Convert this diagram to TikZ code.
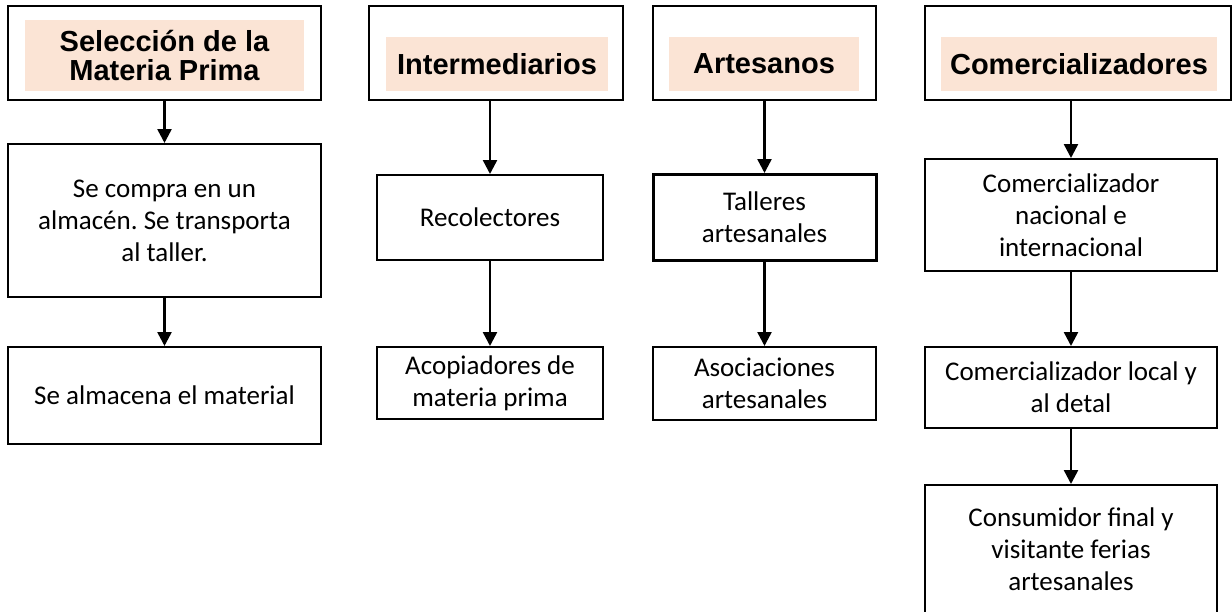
\documentclass[tikz,border=0pt]{standalone}
\usepackage{fontspec}
\setmainfont{Carlito}
\newfontfamily\headfont{Liberation Sans}
\usetikzlibrary{arrows.meta,positioning}

\definecolor{peach}{HTML}{FBE4D5}
\frenchspacing

\begin{document}
\begin{tikzpicture}[x=1pt,y=-1pt,>={Triangle[length=14pt,width=14pt]},line width=2pt,
    every node/.style={inner sep=0pt,align=center}]
  \tikzstyle{head}=[draw=black,minimum height=94pt]
  \tikzstyle{shade}=[fill=peach,font=\headfont\bfseries\fontsize{29}{29}\selectfont]
  \tikzstyle{box}=[draw=black,font=\fontsize{27}{32}\selectfont]
  \tikzstyle{flow}=[->,line width=2.5pt]

  \useasboundingbox (0,0) rectangle (1232,611);

  % encabezados
  \node[head,minimum width=313pt] (h1) at (164.5,53) {};
  \node[shade,minimum width=279pt,minimum height=71pt] (s1) at (164.5,55.5) {Selección de la\\Materia Prima};
  \node[head,minimum width=254pt] (h2) at (496,53) {};
  \node[shade,minimum width=222pt,minimum height=54pt] (s2) at (497,64) {Intermediarios};
  \node[head,minimum width=223pt] (h3) at (764.5,53) {};
  \node[shade,minimum width=190pt,minimum height=54pt] (s3) at (764,64) {Artesanos};
  \node[head,minimum width=306pt] (h4) at (1078,53) {};
  \node[shade,minimum width=276pt,minimum height=54pt] (s4) at (1079,64) {Comercializadores};

  % materia prima
  \node[box,minimum width=313pt,minimum height=153pt] (mp1) [below=42pt of h1] {Se compra en un\\almacén. Se transporta\\al taller.};
  \node[box,minimum width=313pt,minimum height=97pt] (mp2) [below=48pt of mp1] {Se almacena el material};

  % intermediarios
  \node[box,minimum width=226pt,minimum height=85pt] (in1) [below=73pt of h2,xshift=-6pt] {Recolectores};
  \node[box,minimum width=226pt,minimum height=72pt] (in2) [below=85pt of in1] {Acopiadores de\\materia prima};

  % artesanos
  \node[box,line width=3pt,minimum width=223pt,minimum height=86pt] (ar1) [below=72pt of h3] {Talleres\\artesanales};
  \node[box,minimum width=223pt,minimum height=73pt] (ar2) [below=84pt of ar1] {Asociaciones\\artesanales};

  % comercializadores
  \node[box,minimum width=292pt,minimum height=112pt] (co1) [below=57pt of h4,xshift=-7pt] {Comercializador\\nacional e\\internacional};
  \node[box,minimum width=292pt,minimum height=81pt] (co2) [below=74pt of co1] {Comercializador local y\\al detal};
  \node[box,minimum width=292pt,minimum height=128pt] (co3) [below=55pt of co2] {Consumidor final y\\visitante ferias\\artesanales};

  \draw[flow] (mp1.north |- h1.south) -- (mp1.north);
  \draw[flow] (mp1) -- (mp2);
  \draw[flow] (in1.north |- h2.south) -- (in1.north);
  \draw[flow] (in1) -- (in2);
  \draw[flow] (ar1.north |- h3.south) -- (ar1.north);
  \draw[flow] (ar1) -- (ar2);
  \draw[flow] (co1.north |- h4.south) -- (co1.north);
  \draw[flow] (co1) -- (co2);
  \draw[flow] (co2) -- (co3);
\end{tikzpicture}
\end{document}
